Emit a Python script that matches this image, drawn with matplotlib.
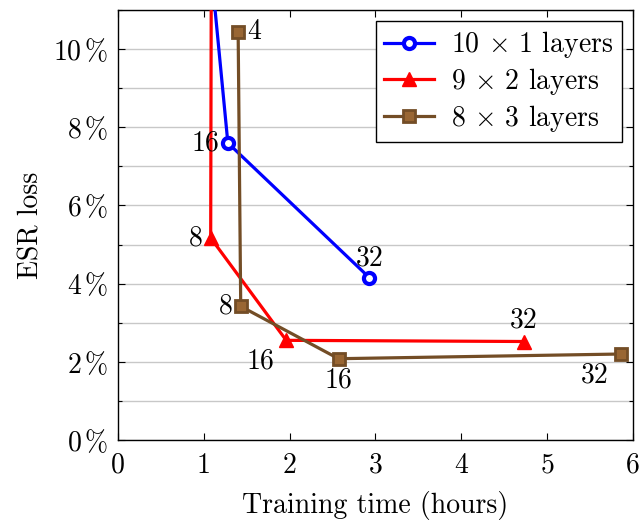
import matplotlib
matplotlib.use("Agg")
import matplotlib.pyplot as plt
from matplotlib.ticker import MultipleLocator, FuncFormatter

plt.rcParams['font.family'] = ['cmr10', 'DejaVu Serif']
plt.rcParams['mathtext.fontset'] = 'cm'
plt.rcParams['axes.formatter.use_mathtext'] = True

# Data (hours, ESR loss %)
blue_x = [1.00, 1.28, 2.93]
blue_y = [14.0, 7.60, 4.15]
blue_lbl = ["8", "16", "32"]

red_x = [1.10, 1.08, 1.96, 4.73]
red_y = [25.0, 5.17, 2.55, 2.52]
red_lbl = ["4", "8", "16", "32"]

brown_x = [1.40, 1.43, 2.57, 5.86]
brown_y = [10.43, 3.42, 2.08, 2.20]
brown_lbl = ["4", "8", "16", "32"]

fig = plt.figure(figsize=(6.43, 5.20), dpi=100)
ax = fig.add_axes([0.1835, 0.1538, 0.8009, 0.827])

FS = 20
brown_line = (0.45, 0.30, 0.15)
brown_fill = (0.60, 0.40, 0.20)

ax.plot(blue_x, blue_y, color='blue', lw=2.3, marker='o', ms=8, mfc='white',
        mec='blue', mew=3, label=r'10 $\times$ 1 layers', zorder=4)
ax.plot(red_x, red_y, color='red', lw=2.3, marker='^', ms=10, mfc='red',
        mec='red', label=r'9 $\times$ 2 layers', zorder=3)
ax.plot(brown_x, brown_y, color=brown_line, lw=2.3, marker='s', ms=9,
        mfc=brown_fill, mec=brown_line, mew=2, label=r'8 $\times$ 3 layers', zorder=5)

def lab(x, y, t, dx, dy, ha, va):
    ax.annotate(t, (x, y), xytext=(dx, dy), textcoords='offset pixels',
                ha=ha, va=va, fontsize=FS, annotation_clip=True, zorder=6)

lab(blue_x[1], blue_y[1], blue_lbl[1], -8, 0, 'right', 'center')
lab(blue_x[2], blue_y[2], blue_lbl[2], 0, 6, 'center', 'bottom')
lab(red_x[1], red_y[1], red_lbl[1], -8, 0, 'right', 'center')
lab(red_x[2], red_y[2], red_lbl[2], -26, -8, 'center', 'top')
lab(red_x[3], red_y[3], red_lbl[3], 0, 8, 'center', 'bottom')
lab(brown_x[0], brown_y[0], brown_lbl[0], 9, 0, 'left', 'center')
lab(brown_x[1], brown_y[1], brown_lbl[1], -8, 0, 'right', 'center')
lab(brown_x[2], brown_y[2], brown_lbl[2], 0, -8, 'center', 'top')
lab(brown_x[3], brown_y[3], brown_lbl[3], -26, -8, 'center', 'top')

ax.set_xlim(0, 6)
ax.set_ylim(0, 11)
ax.xaxis.set_major_locator(MultipleLocator(1))
ax.yaxis.set_major_locator(MultipleLocator(2))
ax.yaxis.set_minor_locator(MultipleLocator(1))
ax.yaxis.set_major_formatter(FuncFormatter(lambda v, p: f"{int(round(v))}" + r"$\,$%"))
ax.xaxis.set_major_formatter(FuncFormatter(lambda v, p: f"{int(round(v))}"))
ax.grid(True, axis='y', which='both', color='#c8c8c8', lw=1.0)
ax.set_axisbelow(True)
ax.tick_params(which='both', direction='in', top=True, right=True, labelsize=FS)
ax.tick_params(axis='x', which='major', pad=9)
ax.tick_params(axis='y', which='major', pad=7)
ax.tick_params(which='major', length=5, width=0.8)
ax.tick_params(which='minor', length=3, width=0.8)
for s in ax.spines.values():
    s.set_linewidth(1.0)

ax.set_xlabel('Training time (hours)', fontsize=FS, labelpad=9)
ax.set_ylabel('ESR loss', fontsize=FS, labelpad=6)

leg = ax.legend(loc='upper right', fontsize=FS, frameon=True, fancybox=False,
                edgecolor='black', framealpha=1, handlelength=1.8,
                borderaxespad=0.4, labelspacing=0.2, handletextpad=0.6,
                borderpad=0.3)
leg.get_frame().set_linewidth(1.0)

fig.savefig('out.png', dpi=100)
